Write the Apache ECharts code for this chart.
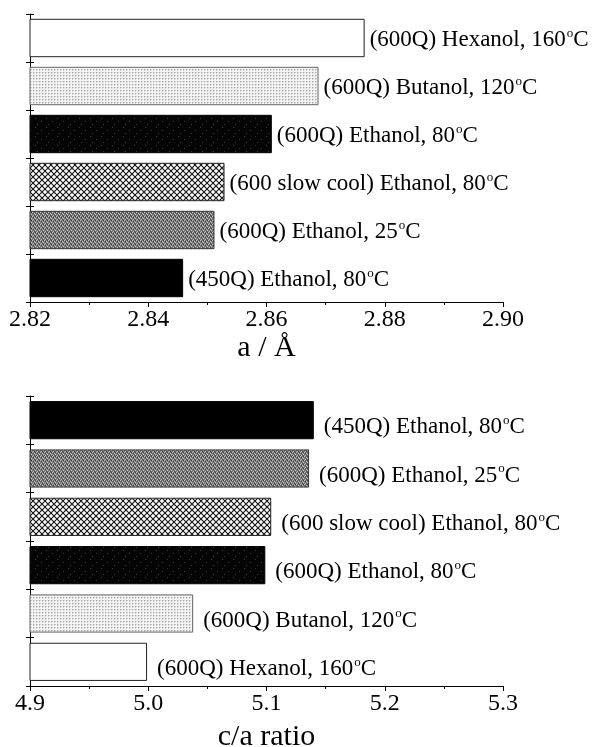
<!DOCTYPE html>
<html>
<head>
<meta charset="utf-8">
<script src="https://cdn.jsdelivr.net/npm/echarts@6/dist/echarts.min.js"></script>
<style>html,body{margin:0;padding:0;background:#fff}#c{width:592px;height:747px}</style>
</head>
<body>
<div id="c"></div>
<script>
// Top panel (a / Å), listed top to bottom
var topCategories = ['(600Q) Hexanol, 160°C', '(600Q) Butanol, 120°C', '(600Q) Ethanol, 80°C', '(600 slow cool) Ethanol, 80°C', '(600Q) Ethanol, 25°C', '(450Q) Ethanol, 80°C'];
var topValues = [2.8766, 2.8688, 2.8609, 2.8529, 2.8512, 2.8459];
var topTicks = [2.82, 2.84, 2.86, 2.88, 2.90];
// Bottom panel (c/a ratio), listed top to bottom
var bottomCategories = ['(450Q) Ethanol, 80°C', '(600Q) Ethanol, 25°C', '(600 slow cool) Ethanol, 80°C', '(600Q) Ethanol, 80°C', '(600Q) Butanol, 120°C', '(600Q) Hexanol, 160°C'];
var bottomValues = [5.140, 5.136, 5.104, 5.099, 5.038, 4.999];
var bottomTicks = [4.9, 5.0, 5.1, 5.2, 5.3];

function makeCanvas(w, h, draw) {
  var c = document.createElement('canvas');
  c.width = w; c.height = h;
  var ctx = c.getContext('2d');
  draw(ctx);
  return c;
}
var patterns = {
  white: '#ffffff',
  lightDots: {image: makeCanvas(3, 3, function (ctx) {
    ctx.fillStyle = '#f4f4f4'; ctx.fillRect(0, 0, 3, 3);
    ctx.fillStyle = '#a8a8a8';
    ctx.fillRect(0, 0, 1, 1);
    ctx.fillStyle = '#cfcfcf';
    ctx.fillRect(1, 0, 1, 1); ctx.fillRect(0, 1, 1, 1);
  }), repeat: 'repeat'},
  darkSpeck: {image: makeCanvas(11, 9, function (ctx) {
    ctx.fillStyle = '#050505'; ctx.fillRect(0, 0, 11, 9);
    ctx.fillStyle = '#3a3a3a';
    ctx.fillRect(2, 1, 1, 1); ctx.fillRect(8, 4, 1, 1); ctx.fillRect(4, 7, 1, 1);
  }), repeat: 'repeat'},
  hatch: {image: makeCanvas(6, 6, function (ctx) {
    ctx.fillStyle = '#ffffff'; ctx.fillRect(0, 0, 6, 6);
    ctx.strokeStyle = '#111'; ctx.lineWidth = 1.1;
    ctx.beginPath();
    ctx.moveTo(0, 0); ctx.lineTo(6, 6);
    ctx.moveTo(6, 0); ctx.lineTo(0, 6);
    ctx.stroke();
  }), repeat: 'repeat'},
  midSpeck: {image: makeCanvas(4, 4, function (ctx) {
    ctx.fillStyle = '#747474'; ctx.fillRect(0, 0, 4, 4);
    ctx.fillStyle = '#c4c4c4';
    ctx.fillRect(0, 0, 1, 1); ctx.fillRect(2, 1, 1, 1); ctx.fillRect(1, 3, 1, 1); ctx.fillRect(3, 2, 1, 1);
    ctx.fillStyle = '#404040';
    ctx.fillRect(1, 1, 1, 1); ctx.fillRect(3, 0, 1, 1); ctx.fillRect(2, 3, 1, 1);
  }), repeat: 'repeat'},
  black: '#000000'
};
var styleByName = {
  '(600Q) Hexanol, 160°C': {fill: patterns.white, border: '#222'},
  '(600Q) Butanol, 120°C': {fill: patterns.lightDots, border: '#666'},
  '(600Q) Ethanol, 80°C': {fill: patterns.darkSpeck, border: '#000'},
  '(600 slow cool) Ethanol, 80°C': {fill: patterns.hatch, border: '#222'},
  '(600Q) Ethanol, 25°C': {fill: patterns.midSpeck, border: '#333'},
  '(450Q) Ethanol, 80°C': {fill: patterns.black, border: '#000'}
};

var FONT = 'Liberation Serif';
function buildData(cats, vals) {
  return vals.map(function (v, i) {
    var s = styleByName[cats[i]];
    return {value: v, itemStyle: {color: s.fill, borderColor: s.border, borderWidth: 1}};
  });
}
function xAxisDef(gridIndex, ticks, name, digits, gap) {
  return {
    type: 'value', gridIndex: gridIndex,
    min: ticks[0], max: ticks[ticks.length - 1],
    interval: Math.round((ticks[1] - ticks[0]) * 1000) / 1000,
    name: name, nameLocation: 'middle', nameGap: gap,
    nameTextStyle: {fontFamily: FONT, fontSize: 30, color: '#000'},
    axisLine: {show: true, lineStyle: {color: '#000', width: 1}},
    axisTick: {show: true, length: 5, lineStyle: {color: '#000'}},
    minorTick: {show: true, splitNumber: 2, length: 3, lineStyle: {color: '#000'}},
    splitLine: {show: false},
    axisLabel: {fontFamily: FONT, fontSize: 24, color: '#000', margin: 6,
      formatter: function (v) { return v.toFixed(digits); }}
  };
}
function yAxisDefs(gridIndex, cats) {
  var base = {
    type: 'category', gridIndex: gridIndex, data: cats, inverse: true,
    axisLabel: {show: false}, splitLine: {show: false}
  };
  return [
    Object.assign({}, base, {
      axisLine: {show: true, lineStyle: {color: '#000', width: 1}},
      axisTick: {show: true, length: 4, lineStyle: {color: '#000'}}
    }),
    Object.assign({}, base, {
      position: 'left',
      axisLine: {show: false},
      axisTick: {show: true, inside: true, length: 4, lineStyle: {color: '#000'}}
    })
  ];
}
function richLabel(text) {
  var parts = text.split('°');
  return parts.length > 1 ? '{t|' + parts[0] + '}{s|o}{t|' + parts[1] + '}' : '{t|' + text + '}';
}
function seriesDef(idx, cats, vals, gap, dist, dy) {
  return {
    type: 'bar', xAxisIndex: idx, yAxisIndex: idx * 2,
    data: buildData(cats, vals),
    barCategoryGap: gap,
    silent: true,
    label: {
      show: true, position: 'right', distance: dist, offset: [0, dy],
      fontFamily: FONT, fontSize: 23, color: '#000',
      formatter: function (p) { return richLabel(cats[p.dataIndex]); },
      rich: {
        t: {fontFamily: FONT, fontSize: 23, color: '#000', lineHeight: 26},
        s: {fontFamily: FONT, fontSize: 13, color: '#000', lineHeight: 14, verticalAlign: 'top', padding: [0, 0, 0, 1]}
      }
    }
  };
}

var chart = echarts.init(document.getElementById('c'), null, {renderer: 'canvas'});
chart.setOption({
  animation: false,
  backgroundColor: '#fff',
  grid: [
    {left: 30, right: 89, top: 14, height: 288, containLabel: false, outerBoundsMode: 'none'},
    {left: 30, right: 89, top: 396, height: 290, containLabel: false, outerBoundsMode: 'none'}
  ],
  xAxis: [
    xAxisDef(0, topTicks, 'a / Å', 2, 28),
    xAxisDef(1, bottomTicks, 'c/a ratio', 1, 36)
  ],
  yAxis: yAxisDefs(0, topCategories).concat(yAxisDefs(1, bottomCategories)),
  series: [
    seriesDef(0, topCategories, topValues, '20%', 5, 2),
    seriesDef(1, bottomCategories, bottomValues, '21%', 10, 7)
  ]
});
</script>
</body>
</html>
